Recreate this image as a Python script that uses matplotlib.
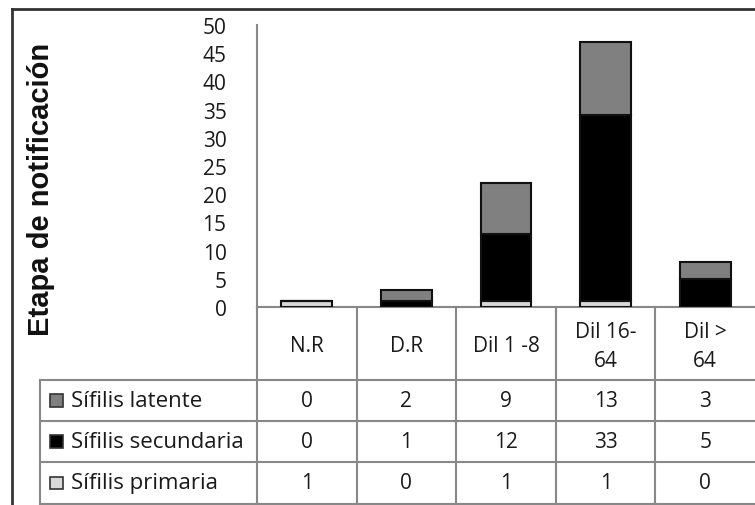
import matplotlib.pyplot as plt
import matplotlib.transforms as mtransforms
from matplotlib.patches import Rectangle
import numpy as np

categorias = ["N.R", "D.R", "Dil 1 -8", "Dil 16-\n64", "Dil >\n64"]
series = ["Sífilis latente", "Sífilis secundaria", "Sífilis primaria"]
latente = [0, 2, 9, 13, 3]
secundaria = [0, 1, 12, 33, 5]
primaria = [1, 0, 1, 1, 0]
yticks = [0, 5, 10, 15, 20, 25, 30, 35, 40, 45, 50]

colores = {"Sífilis latente": "#808080",
           "Sífilis secundaria": "#000000",
           "Sífilis primaria": "#d9d9d9"}
valores = {"Sífilis latente": latente,
           "Sífilis secundaria": secundaria,
           "Sífilis primaria": primaria}

W, H = 755, 506
fig = plt.figure(figsize=(W / 100, H / 100), dpi=100)
fig.patch.set_facecolor("white")

txt = dict(family="Open Sans", color="#1a1a1a", fontsize=15)

# eje del gráfico, en píxeles: x 257..755, y 26..308
ax = fig.add_axes([257 / W, (H - 308) / H, (755 - 257) / W, (308 - 26) / H])
x = np.arange(len(categorias))
ancho = 0.51

abajo = np.zeros(len(categorias))
for s in ["Sífilis primaria", "Sífilis secundaria", "Sífilis latente"]:
    v = np.array(valores[s], dtype=float)
    ax.bar(x, v, ancho, bottom=abajo, color=colores[s], edgecolor="#111111",
           linewidth=1.5, zorder=3)
    abajo += v

ax.set_xlim(-0.5, len(categorias) - 0.5)
ax.set_ylim(0, 50)
ax.set_yticks(yticks)
ax.set_yticklabels([str(t) for t in yticks], **txt)
ax.tick_params(axis="y", length=0, pad=22)
ax.set_xticks([])
for lado in ["top", "right", "bottom"]:
    ax.spines[lado].set_visible(False)
ax.spines["left"].set_color("#888888")
ax.spines["left"].set_linewidth(1.5)

# tabla de datos debajo del eje
tr = mtransforms.blended_transform_factory(ax.transData, ax.transAxes)
px = 282.0  # altura del eje en píxeles


def fy(p):
    # píxel de figura -> fracción del eje
    return (308 - p) / px


gris = "#888888"
lw = 1.5
x_izq = -0.5 - 217 / 99.6
filas = [381, 422, 463, 505]

ax.plot([-0.5, 4.6], [fy(308), fy(308)], color=gris, lw=lw, transform=tr, clip_on=False)
for f in filas:
    ax.plot([x_izq, 4.6], [fy(f), fy(f)], color=gris, lw=lw, transform=tr, clip_on=False)
for i in range(len(categorias)):
    ax.plot([i - 0.5, i - 0.5], [fy(308), fy(506)], color=gris, lw=lw,
            transform=tr, clip_on=False)
ax.plot([x_izq, x_izq], [fy(381), fy(506)], color=gris, lw=lw, transform=tr, clip_on=False)

for i, c in enumerate(categorias):
    ax.text(i, fy(347), c, transform=tr, ha="center", va="center",
            linespacing=1.45, **txt)

for r, s in enumerate(series):
    yc = fy((filas[r] + filas[r + 1]) / 2)
    ax.add_patch(Rectangle((x_izq + 0.1, yc - 0.022), 0.13, 0.044, transform=tr,
                           facecolor=colores[s], edgecolor="#333333", lw=1.2,
                           clip_on=False))
    ax.text(x_izq + 0.31, yc, s, transform=tr, ha="left", va="center",
            family="Open Sans", color="#1a1a1a", fontsize=16)
    for i, v in enumerate(valores[s]):
        ax.text(i, yc, str(v), transform=tr, ha="center", va="center", **txt)

# título del eje y
fig.text(41 / W, 1 - 189 / H, "Etapa de notificación", rotation=90, ha="center",
         va="center", fontsize=21, fontweight="bold", family="Liberation Sans",
         color="#111111")

# marco exterior
fig.add_artist(plt.Line2D([12 / W, 1], [1 - 10 / H, 1 - 10 / H], color="#333333",
                          lw=2, transform=fig.transFigure))
fig.add_artist(plt.Line2D([12 / W, 12 / W], [1 - 10 / H, 0], color="#333333",
                          lw=2, transform=fig.transFigure))

fig.savefig("out.png", dpi=100, facecolor="white")
